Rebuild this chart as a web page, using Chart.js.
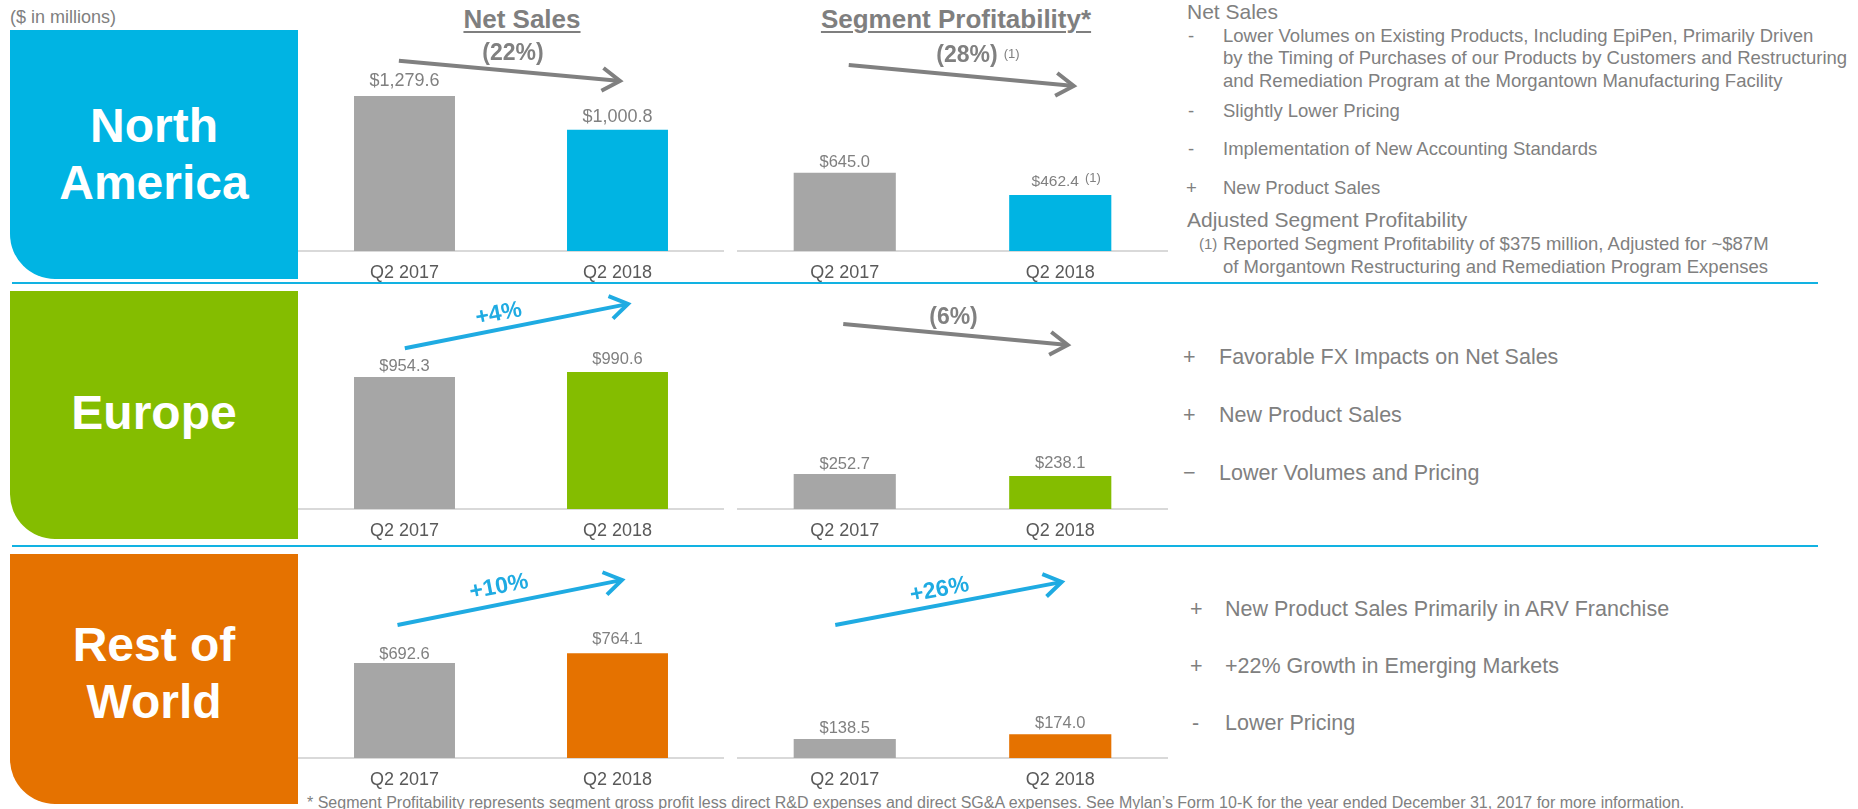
<!DOCTYPE html>
<html>
<head>
<meta charset="utf-8">
<script src="https://cdn.jsdelivr.net/npm/chart.js@4.4.1/dist/chart.umd.min.js"></script>
<style>
  html, body { margin:0; padding:0; }
  body { width:1858px; height:809px; overflow:hidden; background:#fff; position:relative;
         font-family:'Liberation Sans', Arial, sans-serif; }
  .t { position:absolute; white-space:nowrap; color:#808080; }
  .panel { position:absolute; left:10px; width:288px; border-bottom-left-radius:45px; }
  .pname { position:absolute; left:10px; width:288px; text-align:center; color:#fff; font-weight:bold;
           font-size:48px; line-height:57px; }
  .divider { position:absolute; left:12px; width:1806px; height:2px; background:#12b2e2; }
  .title { position:absolute; text-align:center; color:#7f7f7f; font-weight:bold; font-size:26px; line-height:30px;
           text-decoration:underline; text-decoration-thickness:2px; text-underline-offset:3px; }
  .na { font-size:18.5px; line-height:22px; }
  .hd { font-size:21px; line-height:24px; }
  .big { font-size:21.5px; line-height:26px; }
  canvas { position:absolute; }
</style>
</head>
<body>
<script>
// ---------------- data ----------------
const periods = ['Q2 2017', 'Q2 2018'];
const regions = ['North America', 'Europe', 'Rest of World'];
const naNetSales = [1279.6, 1000.8];
const naSegment = [645.0, 462.4];
const euNetSales = [954.3, 990.6];
const euSegment = [252.7, 238.1];
const rowNetSales = [692.6, 764.1];
const rowSegment = [138.5, 174.0];
const netSalesChange = ['(22%)', '+4%', '+10%'];
const segmentChange = ['(28%)', '(6%)', '+26%'];
</script>

<div class="t" style="left:10px; top:6px; font-size:18px; line-height:22px;">($ in millions)</div>

<div class="panel" style="top:30px; height:249px; background:#00b4e3;"></div>
<div class="panel" style="top:291px; height:248px; background:#84bd00;"></div>
<div class="panel" style="top:554px; height:250px; background:#e57200;"></div>

<div class="pname" style="top:97px;">North<br>America</div>
<div class="pname" style="top:384px;">Europe</div>
<div class="pname" style="top:616px;">Rest of<br>World</div>

<div class="divider" style="top:282px;"></div>
<div class="divider" style="top:545px;"></div>

<div class="title" style="left:372px; width:300px; top:4px;">Net Sales</div>
<div class="title" style="left:756px; width:400px; top:4px;">Segment Profitability*</div>

<!-- North America commentary -->
<div class="t hd" style="left:1187px; top:0px;">Net Sales</div>
<div class="t na" style="left:1188px; top:25px;">-</div>
<div class="t na" style="left:1223px; top:25px;">Lower Volumes on Existing Products, Including EpiPen, Primarily Driven</div>
<div class="t na" style="left:1223px; top:47px;">by the Timing of Purchases of our Products by Customers and Restructuring</div>
<div class="t na" style="left:1223px; top:70px;">and Remediation Program at the Morgantown Manufacturing Facility</div>
<div class="t na" style="left:1188px; top:100px;">-</div>
<div class="t na" style="left:1223px; top:100px;">Slightly Lower Pricing</div>
<div class="t na" style="left:1188px; top:138px;">-</div>
<div class="t na" style="left:1223px; top:138px;">Implementation of New Accounting Standards</div>
<div class="t na" style="left:1186px; top:177px;">+</div>
<div class="t na" style="left:1223px; top:177px;">New Product Sales</div>
<div class="t hd" style="left:1187px; top:208px;">Adjusted Segment Profitability</div>
<div class="t" style="left:1199px; top:234px; font-size:15px; line-height:20px;">(1)</div>
<div class="t na" style="left:1223px; top:233px;">Reported Segment Profitability of $375 million, Adjusted for ~$87M</div>
<div class="t na" style="left:1223px; top:256px;">of Morgantown Restructuring and Remediation Program Expenses</div>

<!-- Europe commentary -->
<div class="t big" style="left:1183px; top:344px;">+</div>
<div class="t big" style="left:1219px; top:344px;">Favorable FX Impacts on Net Sales</div>
<div class="t big" style="left:1183px; top:402px;">+</div>
<div class="t big" style="left:1219px; top:402px;">New Product Sales</div>
<div class="t big" style="left:1183px; top:460px;">&minus;</div>
<div class="t big" style="left:1219px; top:460px;">Lower Volumes and Pricing</div>

<!-- Rest of World commentary -->
<div class="t big" style="left:1190px; top:596px;">+</div>
<div class="t big" style="left:1225px; top:596px;">New Product Sales Primarily in ARV Franchise</div>
<div class="t big" style="left:1190px; top:653px;">+</div>
<div class="t big" style="left:1225px; top:653px;">+22% Growth in Emerging Markets</div>
<div class="t big" style="left:1192px; top:710px;">-</div>
<div class="t big" style="left:1225px; top:710px;">Lower Pricing</div>

<div class="t" style="left:307px; top:794px; font-size:16px; line-height:18px;">* Segment Profitability represents segment gross profit less direct R&amp;D expenses and direct SG&amp;A expenses. See Mylan’s Form 10-K for the year ended December 31, 2017 for more information.</div>

<script>
const FONT = "'Liberation Sans', Arial, sans-serif";
const GRAY_BAR = '#a6a6a6';
const GRAY_TXT = '#808080';
const UP = '#1fabe2';
const DOWN = '#808080';
const regionColors = ['#00b4e3', '#84bd00', '#e57200'];

function fmt(v) {
  return '$' + v.toLocaleString('en-US', { minimumFractionDigits: 1, maximumFractionDigits: 1 });
}

function overlay(spec) {
  return {
    id: 'overlay',
    afterDatasetsDraw(chart) {
      const ctx = chart.ctx;
      const xs = chart.scales.x;
      const top = chart.chartArea.top;
      const meta = chart.getDatasetMeta(0);
      const vals = chart.data.datasets[0].data;
      // value labels
      meta.data.forEach((bar, i) => {
        ctx.save();
        ctx.font = spec.valueSize[i] + 'px ' + FONT;
        ctx.fillStyle = GRAY_TXT;
        ctx.textAlign = 'center';
        ctx.textBaseline = 'alphabetic';
        const txt = fmt(vals[i]);
        const x = bar.x + (spec.valueShift ? spec.valueShift[i] : 0);
        const y = bar.y - spec.gap[i];
        ctx.fillText(txt, x, y);
        if (spec.valueNote && spec.valueNote[i]) {
          const w = ctx.measureText(txt).width;
          ctx.font = '13px ' + FONT;
          ctx.textAlign = 'left';
          ctx.fillText(spec.valueNote[i], x + w / 2 + 6, y - 4);
        }
        ctx.restore();
      });
      // trend arrow
      const a = spec.arrow;
      const x1 = xs.getPixelForValue(0) + a.dx1;
      const x2 = xs.getPixelForValue(1) + a.dx2;
      const y1 = top + a.y1, y2 = top + a.y2;
      const col = spec.up ? UP : DOWN;
      ctx.save();
      ctx.strokeStyle = col;
      ctx.lineWidth = 4;
      ctx.lineCap = 'butt';
      ctx.lineJoin = 'miter';
      const th = Math.atan2(y2 - y1, x2 - x1);
      ctx.beginPath();
      ctx.moveTo(x1, y1);
      ctx.lineTo(x2 - 2 * Math.cos(th), y2 - 2 * Math.sin(th));
      ctx.stroke();
      const L = 21, phi = 33 * Math.PI / 180;
      ctx.beginPath();
      ctx.moveTo(x2 - L * Math.cos(th - phi), y2 - L * Math.sin(th - phi));
      ctx.lineTo(x2, y2);
      ctx.lineTo(x2 - L * Math.cos(th + phi), y2 - L * Math.sin(th + phi));
      ctx.stroke();
      // change label
      const p = spec.pct;
      ctx.translate(chart.chartArea.left + p.x, top + p.y);
      ctx.rotate((p.rot || 0) * Math.PI / 180);
      ctx.font = 'bold 23px ' + FONT;
      ctx.fillStyle = col;
      ctx.textAlign = 'center';
      ctx.textBaseline = 'middle';
      ctx.fillText(spec.change, 0, 0);
      if (p.note) {
        const w = ctx.measureText(spec.change).width;
        ctx.font = '13px ' + FONT;
        ctx.textAlign = 'left';
        ctx.fillStyle = GRAY_TXT;
        ctx.fillText(p.note, w / 2 + 6, -2);
      }
      ctx.restore();
    }
  };
}

const rows = [
  { top: 30, plotH: 221, yMax: 1824.5 },
  { top: 291, plotH: 218, yMax: 1576 },
  { top: 554, plotH: 204, yMax: 1487 }
];

const charts = [
  { row: 0, left: 298, width: 426, data: naNetSales, change: netSalesChange[0], up: false,
    valueSize: [18, 18], gap: [10, 7.5],
    arrow: { dx1: -5.6, y1: 30.7, dx2: 2.5, y2: 51 }, pct: { x: 215, y: 24 } },
  { row: 0, left: 737, width: 431, data: naSegment, change: segmentChange[0], up: false,
    valueSize: [16.5, 15.5], gap: [6, 9], valueShift: [0, -5], valueNote: [null, '(1)'],
    arrow: { dx1: 4, y1: 35, dx2: 13.5, y2: 56 }, pct: { x: 230, y: 26, note: '(1)' } },
  { row: 1, left: 298, width: 426, data: euNetSales, change: netSalesChange[1], up: true,
    valueSize: [16.5, 16.5], gap: [6, 8],
    arrow: { dx1: 0.3, y1: 57.3, dx2: 10.5, y2: 13 }, pct: { x: 200.6, y: 23, rot: -11 } },
  { row: 1, left: 737, width: 431, data: euSegment, change: segmentChange[1], up: false,
    valueSize: [16.5, 16.5], gap: [5, 8],
    arrow: { dx1: -1.5, y1: 33, dx2: 7.5, y2: 54 }, pct: { x: 216.5, y: 27 } },
  { row: 2, left: 298, width: 426, data: rowNetSales, change: netSalesChange[2], up: true,
    valueSize: [16.5, 16.5], gap: [4, 9],
    arrow: { dx1: -7, y1: 71, dx2: 4.5, y2: 26 }, pct: { x: 201, y: 33, rot: -11 } },
  { row: 2, left: 737, width: 431, data: rowSegment, change: segmentChange[2], up: true,
    valueSize: [16.5, 16.5], gap: [6, 6],
    arrow: { dx1: -9.5, y1: 71, dx2: 1.5, y2: 28 }, pct: { x: 202.6, y: 36, rot: -11 } }
];

charts.forEach((spec) => {
  const r = rows[spec.row];
  const cv = document.createElement('canvas');
  const h = r.plotH + 40;
  cv.width = spec.width; cv.height = h;
  cv.style.left = spec.left + 'px';
  cv.style.top = r.top + 'px';
  cv.style.width = spec.width + 'px';
  cv.style.height = h + 'px';
  document.body.appendChild(cv);
  new Chart(cv, {
    type: 'bar',
    data: {
      labels: periods,
      datasets: [{
        data: spec.data,
        backgroundColor: [GRAY_BAR, regionColors[spec.row]],
        borderWidth: 0,
        barPercentage: 0.474,
        categoryPercentage: 1
      }]
    },
    options: {
      responsive: false,
      animation: false,
      devicePixelRatio: 1,
      layout: { padding: 0 },
      plugins: { legend: { display: false }, tooltip: { enabled: false }, title: { display: false } },
      scales: {
        x: {
          offset: true,
          grid: { display: false, drawTicks: false },
          border: { display: true, color: '#d9d9d9', width: 2 },
          ticks: { color: '#595959', font: { size: 18, family: FONT }, padding: 11, maxRotation: 0 },
          afterFit: (s) => { s.height = 40; }
        },
        y: { display: false, min: 0, max: r.yMax }
      }
    },
    plugins: [overlay(spec)]
  });
});
</script>
</body>
</html>
